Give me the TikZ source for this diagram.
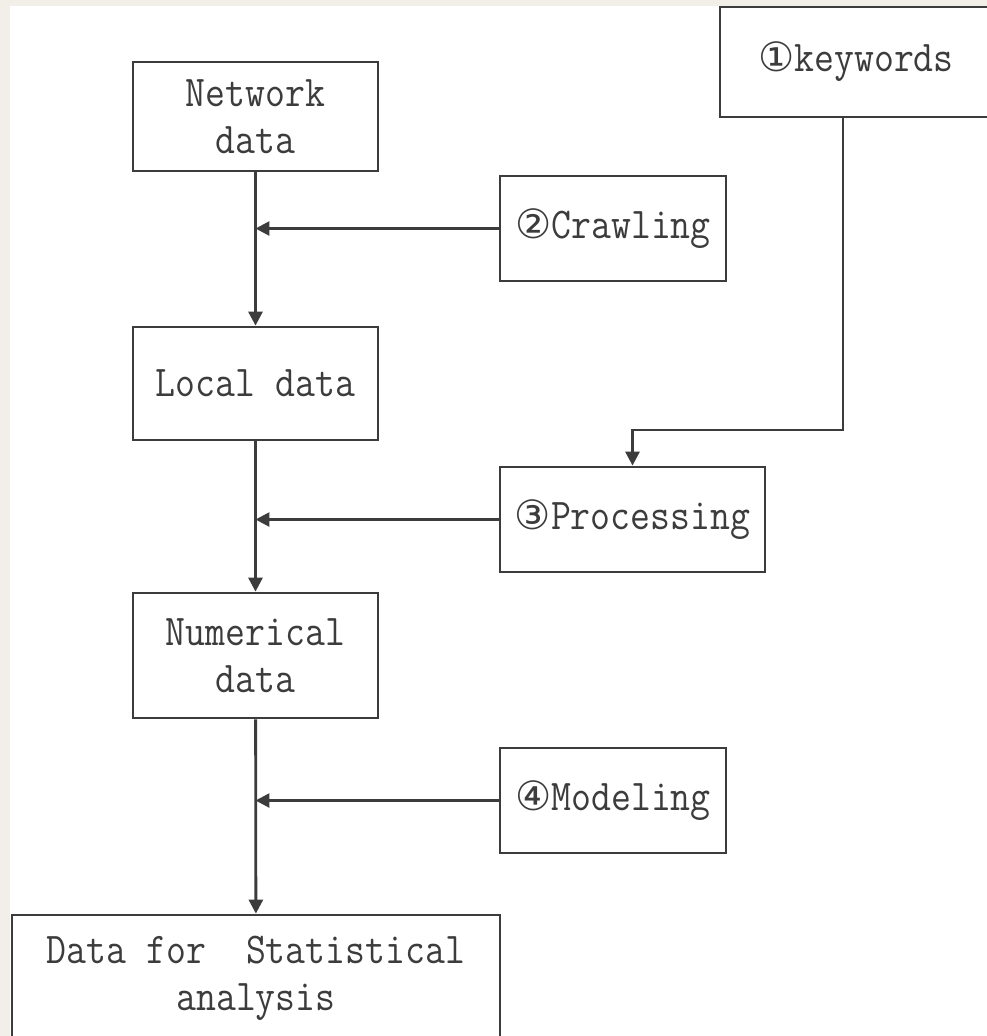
\documentclass[tikz,border=0pt]{standalone}
\usepackage{fontspec}
\newfontfamily\boxfont[FakeStretch=0.88]{Latin Modern Mono}
\newfontfamily\circfont{DejaVu Sans}
\definecolor{LineGray}{RGB}{60, 60, 60}
\definecolor{TextGray}{RGB}{60, 60, 60}
\definecolor{PaperBeige}{RGB}{242, 239, 233}
\newcommand{\cnum}[1]{{\circfont\fontsize{23}{23}\selectfont #1}}
\usepackage{tikz}
\usetikzlibrary{arrows.meta, positioning}

\begin{document}
\begin{tikzpicture}[
    x=0.02cm, y=-0.02cm,
    every node/.style={font=\boxfont\fontsize{25}{26.7}\selectfont, align=center, text=TextGray},
    box/.style={draw=LineGray, line width=1.6pt, fill=white, inner sep=0pt},
    flow/.style={-{Triangle[length=0.28cm, width=0.28cm]}, draw=LineGray, line width=1.6pt}
]
% paper
\fill[PaperBeige] (0,0) rectangle (987,1036);
\fill[white] (10,6) rectangle (987,1036);
\useasboundingbox (0,0) rectangle (987,1036);

\node[box, minimum width=4.9cm, minimum height=2.18cm] (net) at (255.5,116.5) {Network\\data};
\node[box, minimum width=5.44cm, minimum height=2.2cm] (kw) at (856,62) {\cnum{①}keywords};
\node[box, minimum width=4.52cm, minimum height=2.1cm] (crawl) at (613,228.5) {\cnum{②}Crawling};
\node[box, minimum width=4.9cm, minimum height=2.26cm] (local) at (255.5,383.5) {Local data};
\node[box, minimum width=5.3cm, minimum height=2.1cm] (proc) at (632.5,519.5) {\cnum{③}Processing};
\node[box, minimum width=4.9cm, minimum height=2.5cm] (num) at (255.5,655.5) {Numerical\\data};
\node[box, minimum width=4.52cm, minimum height=2.1cm] (model) at (613,800.5) {\cnum{④}Modeling};
\node[box, minimum width=9.76cm, minimum height=2.52cm] (stat) at (256,978) {Data for~ Statistical\\analysis};

\coordinate (kwbend) at (843,430);

\draw[flow] (net) -- (local);
\draw[flow] (local) -- (num);
\draw[flow] (num) -- (stat);
\draw[flow] (crawl.west) -- (crawl.west -| net.south);
\draw[flow] (proc.west) -- (proc.west -| net.south);
\draw[flow] (model.west) -- (model.west -| net.south);
\draw[flow] (kw.south -| kwbend) -- (kwbend) -| (proc.north);
\end{tikzpicture}
\end{document}
